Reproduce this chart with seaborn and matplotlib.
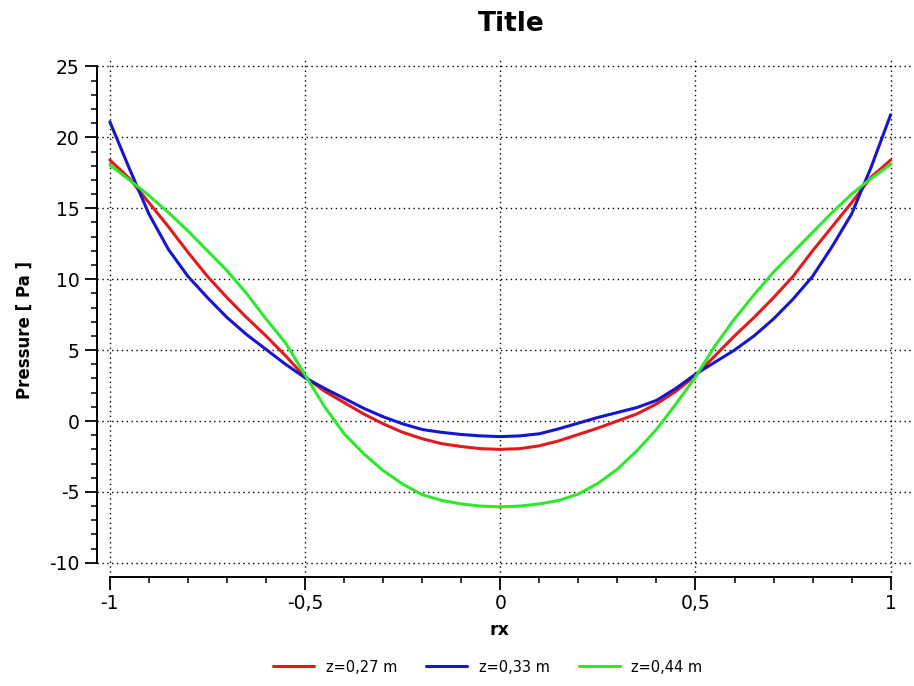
import numpy as np
import pandas as pd
import matplotlib
matplotlib.use("Agg")
import matplotlib.pyplot as plt
from matplotlib.ticker import FixedLocator, FuncFormatter
import seaborn as sns

# values, rx from -1 to 1 in steps of 0.05
rx = [-1.0, -0.95, -0.9, -0.85, -0.8, -0.75, -0.7, -0.65, -0.6, -0.55, -0.5,
      -0.45, -0.4, -0.35, -0.3, -0.25, -0.2, -0.15, -0.1, -0.05, 0.0,
      0.05, 0.1, 0.15, 0.2, 0.25, 0.3, 0.35, 0.4, 0.45, 0.5,
      0.55, 0.6, 0.65, 0.7, 0.75, 0.8, 0.85, 0.9, 0.95, 1.0]
p_027 = [18.4, 17.1, 15.4, 13.7, 11.9, 10.2, 8.7, 7.3, 6.0, 4.6, 3.1,
         2.1, 1.3, 0.5, -0.2, -0.8, -1.25, -1.6, -1.8, -1.95, -2.0,
         -1.95, -1.75, -1.4, -0.95, -0.5, 0.0, 0.5, 1.2, 2.1, 3.2,
         4.6, 6.0, 7.3, 8.7, 10.2, 12.0, 13.7, 15.4, 17.2, 18.4]
p_033 = [21.1, 17.8, 14.6, 12.1, 10.2, 8.7, 7.3, 6.1, 5.05, 4.0, 3.05,
         2.3, 1.6, 0.9, 0.3, -0.2, -0.6, -0.8, -0.95, -1.05, -1.1,
         -1.05, -0.9, -0.55, -0.15, 0.25, 0.6, 0.95, 1.45, 2.3, 3.3,
         4.15, 5.0, 6.0, 7.2, 8.6, 10.2, 12.3, 14.6, 17.9, 21.6]
p_044 = [18.05, 17.0, 15.9, 14.7, 13.4, 12.0, 10.6, 9.0, 7.2, 5.5, 3.25,
         1.0, -0.9, -2.3, -3.5, -4.45, -5.2, -5.6, -5.85, -6.0, -6.05,
         -6.0, -5.85, -5.6, -5.15, -4.4, -3.4, -2.1, -0.6, 1.2, 3.1,
         5.3, 7.2, 8.9, 10.5, 11.9, 13.3, 14.7, 16.0, 17.1, 18.1]
series_names = ["z=0,27 m", "z=0,33 m", "z=0,44 m"]
series_colors = ["#e31a1c", "#1616cc", "#2ee82e"]

x_major = [-1, -0.5, 0, 0.5, 1]
y_major = [-10, -5, 0, 5, 10, 15, 20, 25]

df = pd.DataFrame({
    "rx": rx * 3,
    "pressure": p_027 + p_033 + p_044,
    "series": [n for n in series_names for _ in rx],
})

sns.set_style("white")
plt.rcParams["font.family"] = ["DejaVu Sans"]
plt.rcParams["text.color"] = "black"
plt.rcParams["axes.labelcolor"] = "black"

fig = plt.figure(figsize=(9.14, 6.86), dpi=100)
ax = fig.add_axes([0.1061, 0.1589, 0.894, 0.7566])

sns.lineplot(data=df, x="rx", y="pressure", hue="series",
             palette=dict(zip(series_names, series_colors)),
             linewidth=2.2, ax=ax, legend=False, sort=False)

ax.set_xlim(-1.033, 1.06)
ax.set_ylim(-11, 25.6)

# ticks only along the drawn part of each spine
ax.xaxis.set_major_locator(FixedLocator(x_major))
ax.xaxis.set_minor_locator(FixedLocator(np.round(np.arange(-1, 1.001, 0.1), 2)))
ax.yaxis.set_major_locator(FixedLocator(y_major))
ax.yaxis.set_minor_locator(FixedLocator(np.arange(-10, 26, 1)))

comma = FuncFormatter(lambda v, p: f"{round(v, 3):g}".replace(".", ",") if abs(v) > 1e-9 else "0")
ax.xaxis.set_major_formatter(comma)
ax.yaxis.set_major_formatter(comma)

for side in ["top", "right"]:
    ax.spines[side].set_visible(False)
ax.spines["left"].set_bounds(-10, 25)
ax.spines["bottom"].set_bounds(-1, 1)
for side in ["left", "bottom"]:
    ax.spines[side].set_linewidth(1.4)
    ax.spines[side].set_color("black")

ax.tick_params(which="major", direction="out", length=9, width=1.3, labelsize=13.5, colors="black")
ax.tick_params(which="minor", direction="out", length=4.5, width=1.1, colors="black")
ax.tick_params(axis="both", which="both", left=True, bottom=True)

ax.grid(True, which="major", color="black", linestyle=(0, (1, 2.5)), linewidth=1.0)

ax.set_xlabel("rx", fontsize=12.5, fontweight="bold")
ax.set_ylabel("Pressure [ Pa ]", fontsize=12, fontweight="bold")
ax.xaxis.set_label_coords(0.493, -0.085)
ax.yaxis.set_label_coords(-0.077, 0.476)

fig.text(511 / 914, 1 - 24 / 686, "Title", ha="center", va="center",
         fontsize=19, fontweight="bold")

handles = [plt.Line2D([], [], color=c, linewidth=2.2) for c in series_colors]
fig.legend(handles, series_names, loc="center", bbox_to_anchor=(488 / 914, 1 - 667 / 686),
           ncol=3, frameon=False, fontsize=10.5, handlelength=2.8, columnspacing=2.0)

fig.savefig("out.png", dpi=100, facecolor="white")
